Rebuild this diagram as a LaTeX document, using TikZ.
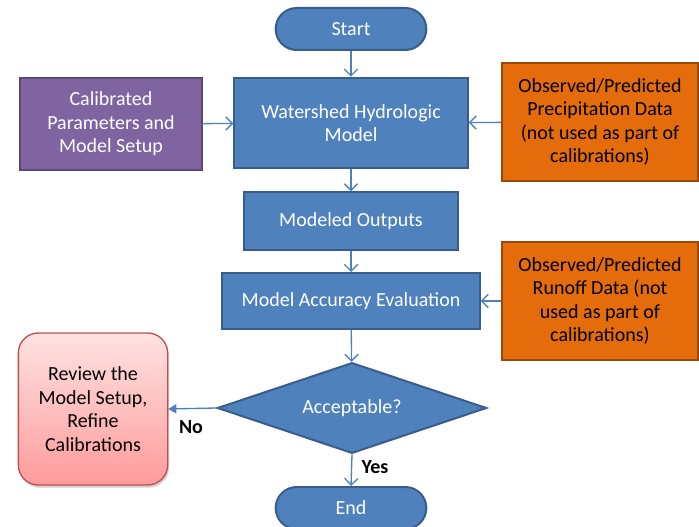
\documentclass[tikz,border=0pt]{standalone}
\usepackage{fontspec}
\setmainfont{Carlito}
\usepackage{tikz}
\usetikzlibrary{shapes.geometric, arrows.meta, shadows, positioning}
\usepackage{xcolor}

\definecolor{flowblue}{HTML}{4F81BD}
\definecolor{flowblueline}{HTML}{385D8A}
\definecolor{calpurple}{HTML}{8064A2}
\definecolor{calpurpleline}{HTML}{5C4776}
\definecolor{dataorange}{HTML}{E46C0A}
\definecolor{dataorangeline}{HTML}{984807}
\definecolor{reviewtop}{HTML}{FFE2E2}
\definecolor{reviewbottom}{HTML}{FF9B9B}
\definecolor{reviewline}{HTML}{C0504D}

\tikzset{
  process/.style={rectangle, draw=flowblueline, fill=flowblue, line width=1.5pt,
    text=white, align=center},
  terminal/.style={rectangle, rounded corners=15.75pt, draw=flowblueline, fill=flowblue,
    line width=1.5pt, text=white, minimum width=113pt, minimum height=31.5pt},
  decision/.style={diamond, aspect=2.95, draw=flowblueline, fill=flowblue,
    line width=1.5pt, text=white, minimum width=202pt, minimum height=68pt, inner sep=0pt},
  setup/.style={rectangle, draw=calpurpleline, fill=calpurple, line width=1.5pt,
    text=white, align=center},
  datain/.style={rectangle, draw=dataorangeline, fill=dataorange, line width=1.5pt,
    text=black, align=center},
  review/.style={rectangle, rounded corners=15pt, draw=reviewline, line width=1pt,
    top color=reviewtop, bottom color=reviewbottom, text=black, align=center,
    drop shadow={shadow xshift=1pt, shadow yshift=-2pt, fill=black!35}},
  flow/.style={draw=flowblue, line width=1pt, -{Straight Barb[length=5pt, width=10pt]}},
  noflow/.style={draw=flowblue, line width=1pt, -{Triangle[length=6pt, width=7pt]}},
  answer/.style={font=\fontsize{15}{18}\selectfont\bfseries, text=black}
}

\begin{document}
\begin{tikzpicture}[x=0.75pt, y=-0.75pt, every node/.style={font=\fontsize{15}{17.6}\selectfont}]
    \useasboundingbox (0,0) rectangle (699,527);

    % Main column
    \node[terminal] (start) at (351,29) {Start};
    \node[process, minimum width=175pt, minimum height=68pt] (model) at (351,123)
      {Watershed Hydrologic\\Model};
    \node[process, minimum width=161pt, minimum height=43pt] (outputs) at (351,221)
      {Modeled Outputs};
    \node[process, minimum width=193pt, minimum height=42pt] (accuracy) at (351,301)
      {Model Accuracy Evaluation};
    \node[decision] (accept) at (352,408) {Acceptable?};
    \node[terminal] (end) at (351,508) {End};

    % Side inputs
    \node[setup, minimum width=137pt, minimum height=69pt] (calib) at (111,124)
      {Calibrated\\Parameters and\\Model Setup};
    \node[datain, minimum width=147pt, minimum height=89pt] (precip) at (600,122)
      {Observed/Predicted\\Precipitation Data\\(not used as part of\\calibrations)};
    \node[datain, minimum width=147pt, minimum height=88pt] (runoff) at (600,301)
      {Observed/Predicted\\Runoff Data (not\\used as part of\\calibrations)};

    % Review loop
    \node[review, minimum width=112pt, minimum height=114pt] (refine) at (93,409)
      {Review the\\Model Setup,\\Refine\\Calibrations};

    % Connectors
    \draw[flow] (start) -- (model);
    \draw[flow] (model) -- (outputs);
    \draw[flow] (outputs) -- (accuracy);
    \draw[flow] (accuracy) -- (accept);
    \draw[flow] (calib) -- (model);
    \draw[flow] (precip) -- (model);
    \draw[flow] (runoff) -- (accuracy);
    \draw[noflow] (accept.west) -- (refine.east);
    \draw[flow] (accept.south) -- (end.north);

    % Answers
    \node[answer] (nolabel) at (191,427) {No};
    \node[answer] (yeslabel) at (375,467) {Yes};
\end{tikzpicture}
\end{document}
